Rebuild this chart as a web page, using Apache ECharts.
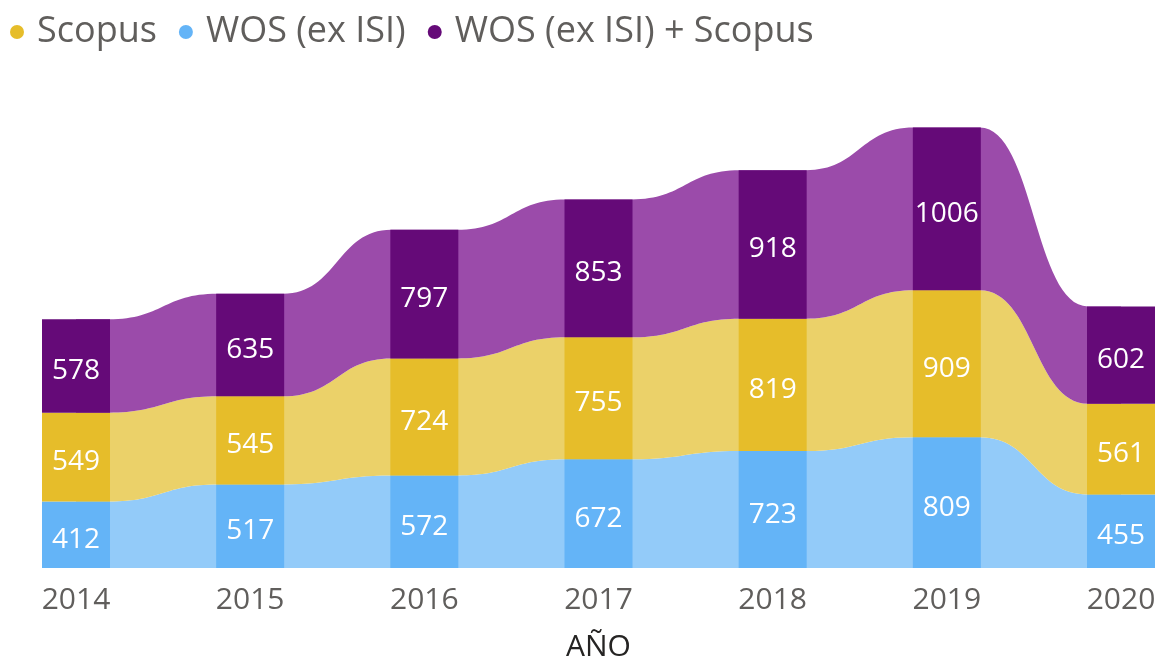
<!DOCTYPE html>
<html>
<head>
<meta charset="utf-8">
<script src="https://cdn.jsdelivr.net/npm/echarts@6/dist/echarts.min.js"></script>
<style>
  html, body { margin: 0; background: #fff; }
  #chart { width: 1159px; height: 656px; }
</style>
</head>
<body>
<div id="chart"></div>
<script>
  // data
  const years = ['2014', '2015', '2016', '2017', '2018', '2019', '2020']
  const wos = [412, 517, 572, 672, 723, 809, 455]
  const scopus = [549, 545, 724, 755, 819, 909, 561]
  const both = [578, 635, 797, 853, 918, 1006, 602]
  const names = ['WOS (ex ISI)', 'Scopus', 'WOS (ex ISI) + Scopus']

  const barColors = ['#64B4F7', '#E6BD2A', '#650A78']
  const ribbonColors = ['#93CBF9', '#EBD169', '#9B4BAA']
  const font = 'Open Sans'
  const barW = 68

  // cumulative stack edges, bottom to top
  const layers = [wos, scopus, both]
  const edges = [years.map(() => 0)]
  layers.forEach((vals, k) => {
    edges.push(vals.map((v, i) => edges[k][i] + v))
  })

  function ribbon(k) {
    const lo = edges[k], hi = edges[k + 1]
    return function (params, api) {
      const i = api.value(0)
      const a0 = api.coord([i, lo[i]]), a1 = api.coord([i, hi[i]])
      const b0 = api.coord([i + 1, lo[i + 1]]), b1 = api.coord([i + 1, hi[i + 1]])
      const x1 = a0[0] + barW / 2 - 1, x2 = b0[0] - barW / 2 + 1
      const xm = (x1 + x2) / 2
      const d = 'M' + a0[0] + ',' + a1[1] + ' L' + x1 + ',' + a1[1] +
        ' C' + xm + ',' + a1[1] + ' ' + xm + ',' + b1[1] + ' ' + x2 + ',' + b1[1] +
        ' L' + b0[0] + ',' + b1[1] + ' L' + b0[0] + ',' + b0[1] + ' L' + x2 + ',' + b0[1] +
        ' C' + xm + ',' + b0[1] + ' ' + xm + ',' + a0[1] + ' ' + x1 + ',' + a0[1] +
        ' L' + a0[0] + ',' + a0[1] + ' Z'
      return {
        type: 'path',
        shape: { pathData: d },
        style: { fill: ribbonColors[k] }
      }
    }
  }

  const series = []
  layers.forEach((vals, k) => {
    series.push({
      name: 'ribbon' + k,
      type: 'custom',
      z: 1,
      silent: true,
      renderItem: ribbon(k),
      encode: { x: 0, y: 1 },
      data: years.slice(0, -1).map((y, i) => [i, edges[k + 1][i]])
    })
    series.push({
      name: names[k],
      type: 'bar',
      stack: 'total',
      z: 2,
      barWidth: barW,
      itemStyle: { color: barColors[k] },
      label: {
        show: true,
        position: 'inside',
        offset: [0, 5],
        color: '#fff',
        fontFamily: font,
        fontSize: 28
      },
      data: vals
    })
  })

  const chart = echarts.init(document.getElementById('chart'))
  chart.setOption({
    animation: false,
    legend: {
      data: ['Scopus', 'WOS (ex ISI)', 'WOS (ex ISI) + Scopus'],
      left: 5,
      top: 9,
      icon: 'circle',
      itemWidth: 30,
      itemHeight: 14,
      itemGap: 22,
      textStyle: { fontFamily: font, fontSize: 36, color: '#605E5C' }
    },
    grid: { left: 76, right: 38, top: 83, bottom: 88, outerBoundsMode: 'none' },
    xAxis: {
      type: 'category',
      data: years,
      boundaryGap: false,
      axisLine: { show: false },
      axisTick: { show: false },
      axisLabel: { fontFamily: font, fontSize: 30, color: '#605E5C', margin: 17 },
      name: 'AÑO',
      nameLocation: 'middle',
      nameGap: 64,
      nameTextStyle: { fontFamily: font, fontSize: 30, color: '#252423' }
    },
    yAxis: {
      type: 'value',
      min: 0,
      max: 3000,
      show: false
    },
    series: series
  })
</script>
</body>
</html>
